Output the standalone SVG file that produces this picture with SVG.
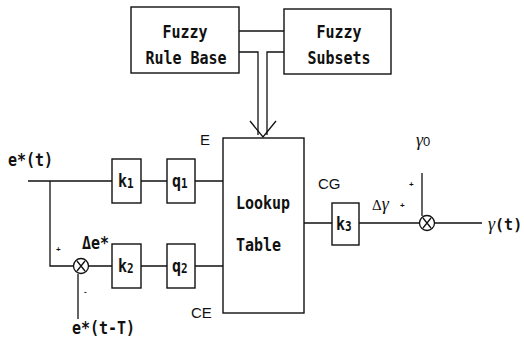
<svg xmlns="http://www.w3.org/2000/svg" width="524" height="343" viewBox="0 0 524 343">
<style>
.b{fill:none;stroke:#111;stroke-width:1.4}
.l{fill:none;stroke:#111;stroke-width:1.3}
.t{font-family:"DejaVu Sans Mono","Liberation Mono",monospace;font-size:15px;font-weight:bold;fill:#111}
.s{font-family:"Liberation Sans",Arial,sans-serif;font-size:15px;fill:#111}
.g{font-family:"Liberation Serif","Times New Roman",serif;font-style:italic;font-size:18px;fill:#111}
.p{font-family:"Liberation Sans",Arial,sans-serif;font-size:8px;font-weight:bold;fill:#111}
</style>
<rect width="524" height="343" fill="#fff"/>
<g id="rulebase">
<rect class="b" x="131" y="7" width="108" height="66"/>
<text class="t" x="185" y="38" text-anchor="middle" transform="matrix(1,0,0,1.2,0,-7.6)">Fuzzy</text>
<text class="t" x="186" y="64" text-anchor="middle" transform="matrix(1,0,0,1.2,0,-12.8)">Rule Base</text>
</g>
<g id="subsets">
<rect class="b" x="284" y="9" width="107" height="65"/>
<text class="t" x="339" y="38" text-anchor="middle" transform="matrix(1,0,0,1.2,0,-7.6)">Fuzzy</text>
<text class="t" x="339" y="64" text-anchor="middle" transform="matrix(1,0,0,1.2,0,-12.8)">Subsets</text>
</g>
<g id="lookup">
<rect class="b" x="223" y="138" width="81" height="175"/>
<text class="t" x="236" y="209" transform="matrix(1,0,0,1.2,0,-41.8)">Lookup</text>
<text class="t" x="236" y="251" transform="matrix(1,0,0,1.2,0,-50.2)">Table</text>
</g>
<g id="k1">
<rect class="b" x="112" y="159" width="29" height="44"/>
<text class="t" x="118" y="187" transform="matrix(1,0,0,1.2,0,-37.4)">k<tspan font-size="11" dy="1">1</tspan></text>
</g>
<g id="q1">
<rect class="b" x="167" y="159" width="28" height="44"/>
<text class="t" x="172" y="187" transform="matrix(1,0,0,1.2,0,-37.4)">q<tspan font-size="11" dy="1">1</tspan></text>
</g>
<g id="k2">
<rect class="b" x="112" y="244" width="29" height="44"/>
<text class="t" x="118" y="272" transform="matrix(1,0,0,1.2,0,-54.4)">k<tspan font-size="11" dy="1">2</tspan></text>
</g>
<g id="q2">
<rect class="b" x="167" y="244" width="28" height="44"/>
<text class="t" x="172" y="272" transform="matrix(1,0,0,1.2,0,-54.4)">q<tspan font-size="11" dy="1">2</tspan></text>
</g>
<g id="k3">
<rect class="b" x="332" y="203" width="27" height="42"/>
<text class="t" x="336" y="230" transform="matrix(1,0,0,1.2,0,-46)">k<tspan font-size="11" dy="1">3</tspan></text>
</g>
<g id="sum1">
<circle class="l" cx="81" cy="266" r="7.5"/>
<path class="l" d="M77,261 L85,271 M85,261 L77,271"/>
</g>
<g id="sum2">
<circle class="l" cx="427" cy="223" r="7.5"/>
<path class="l" d="M423,218 L431,228 M431,218 L423,228"/>
</g>
<g id="connectors">
<path class="l" d="M239,31 H284"/>
<path class="l" d="M239,52 H258 V135"/>
<path class="l" d="M284,52 H267 V135"/>
<path class="l" d="M250,121 L263,137 L276,121"/>
<path class="l" d="M28,181 H112 M141,181 H167 M195,181 H223"/>
<path class="l" d="M50,181 V266 H73.5 M88.5,266 H112 M141,266 H167 M195,266 H223"/>
<path class="l" d="M78,274 V319"/>
<path class="l" d="M304,223 H332 M359,223 H419.5 M434.5,223 H482"/>
<path class="l" d="M422,173 V216"/>
</g>
<g id="labels">
<text class="t" x="8" y="166" transform="matrix(1,0,0,1.2,0,-33.2)">e*(t)</text>
<text class="t" x="72" y="334" transform="matrix(1,0,0,1.2,0,-66.8)">e*(t-T)</text>
<text class="t" x="82" y="249" transform="matrix(1,0,0,1.2,0,-49.8)">Δe*</text>
<text class="s" x="200" y="145">E</text>
<text class="s" x="191" y="318">CE</text>
<text class="s" x="318" y="189">CG</text>
<text class="g" x="372" y="210"><tspan font-style="normal" font-size="15">Δ</tspan>γ</text>
<text class="g" x="416" y="146">γ<tspan font-style="normal" font-size="13" font-family="Liberation Sans, sans-serif">0</tspan></text>
<text class="g" x="488" y="230">γ<tspan class="t" font-style="normal">(t)</tspan></text>
<text class="p" x="56" y="252">+</text>
<text class="p" x="84" y="294">-</text>
<text class="p" x="409" y="187">+</text>
<text class="p" x="400" y="208">+</text>
</g>
</svg>
